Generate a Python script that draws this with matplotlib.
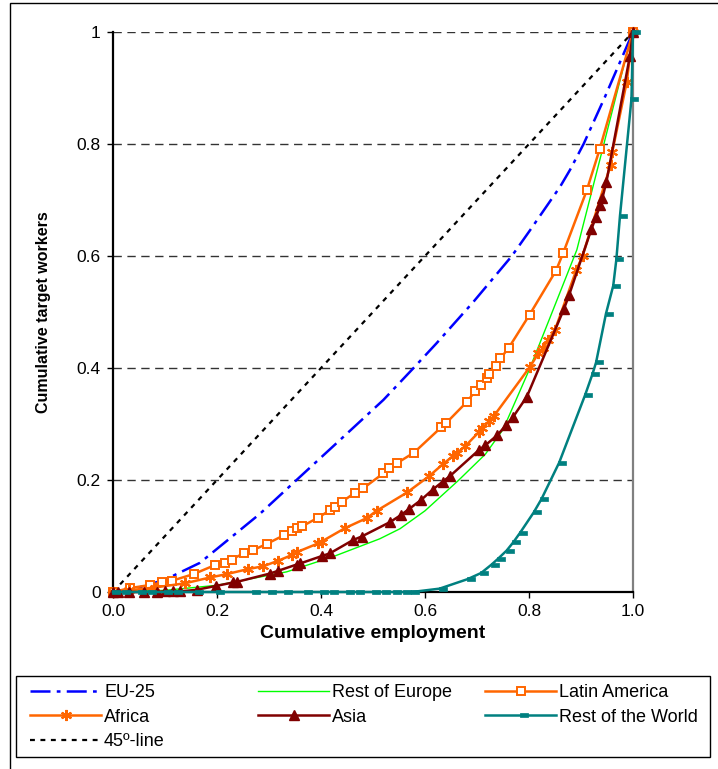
import matplotlib
matplotlib.use("Agg")
import matplotlib.pyplot as plt
from matplotlib.patches import Rectangle
from matplotlib.path import Path

plt.rcParams['font.family'] = ['Liberation Sans', 'DejaVu Sans']

# cumulative employment (x) vs cumulative target workers (y)
eu_x = [0, 0.05, 0.1, 0.167, 0.283, 0.353, 0.443, 0.520, 0.578, 0.622, 0.693, 0.767, 0.802,
        0.860, 0.879, 0.905, 0.946, 1.0]
eu_y = [0, 0.008, 0.022, 0.052, 0.140, 0.200, 0.277, 0.343, 0.400, 0.444, 0.518, 0.600, 0.646,
        0.724, 0.754, 0.800, 0.884, 1.0]

reu_x = [0, 0.1, 0.2, 0.334, 0.423, 0.513, 0.552, 0.6, 0.664, 0.716, 0.75, 0.801, 0.840,
         0.892, 0.944, 0.988, 1.0]
reu_y = [0, 0.003, 0.012, 0.036, 0.063, 0.095, 0.113, 0.145, 0.199, 0.246, 0.29, 0.398, 0.489,
         0.611, 0.800, 0.961, 1.0]

lat_x = [0, 0.033, 0.071, 0.094, 0.113, 0.155, 0.196, 0.215, 0.228, 0.251, 0.270, 0.296,
         0.328, 0.344, 0.353, 0.363, 0.395, 0.417, 0.427, 0.440, 0.465, 0.481, 0.520, 0.531,
         0.546, 0.579, 0.631, 0.641, 0.680, 0.697, 0.708, 0.719, 0.723, 0.736, 0.745, 0.761,
         0.801, 0.852, 0.866, 0.911, 0.936, 1.0]
lat_y = [0, 0.007, 0.0125, 0.017, 0.020, 0.032, 0.048, 0.052, 0.058, 0.069, 0.075, 0.086,
         0.101, 0.109, 0.114, 0.117, 0.133, 0.146, 0.152, 0.161, 0.177, 0.185, 0.212, 0.221,
         0.230, 0.249, 0.294, 0.302, 0.339, 0.359, 0.370, 0.383, 0.389, 0.404, 0.417, 0.436,
         0.495, 0.574, 0.606, 0.717, 0.791, 1.0]

afr_x = [0, 0.03, 0.08, 0.138, 0.187, 0.219, 0.260, 0.289, 0.318, 0.344, 0.353, 0.395,
         0.401, 0.446, 0.488, 0.507, 0.566, 0.608, 0.634, 0.654, 0.661, 0.677, 0.703, 0.710,
         0.723, 0.733, 0.801, 0.818, 0.826, 0.837, 0.850, 0.891, 0.903, 0.957, 0.960, 0.988, 1.0]
afr_y = [0, 0.003, 0.008, 0.0155, 0.026, 0.032, 0.041, 0.046, 0.056, 0.066, 0.071, 0.087,
         0.090, 0.114, 0.132, 0.145, 0.178, 0.207, 0.228, 0.243, 0.248, 0.260, 0.285, 0.292,
         0.305, 0.315, 0.401, 0.426, 0.435, 0.450, 0.468, 0.575, 0.600, 0.763, 0.785, 0.911, 1.0]

asia_x = [0, 0.01, 0.03, 0.06, 0.085, 0.10, 0.115, 0.129, 0.161, 0.199, 0.231, 0.238, 0.302,
          0.318, 0.353, 0.360, 0.401, 0.417, 0.462, 0.478, 0.533, 0.553, 0.569, 0.592, 0.615,
          0.634, 0.648, 0.703, 0.716, 0.739, 0.756, 0.769, 0.796, 0.867, 0.877, 0.920, 0.929,
          0.937, 0.941, 0.949, 0.994, 1.0]
asia_y = [0, 0, 0, 0, 0, 0.001, 0.001, 0.001, 0.004, 0.011, 0.017, 0.018, 0.033,
          0.038, 0.049, 0.051, 0.064, 0.069, 0.093, 0.099, 0.125, 0.137, 0.148, 0.164, 0.183,
          0.197, 0.207, 0.253, 0.262, 0.280, 0.298, 0.312, 0.349, 0.505, 0.530, 0.648, 0.670,
          0.691, 0.703, 0.733, 0.957, 1.0]

row_x = [0, 0.02, 0.05, 0.07, 0.1, 0.12, 0.16, 0.2, 0.27, 0.3, 0.33, 0.37, 0.4, 0.42, 0.45,
         0.47, 0.5, 0.52, 0.54, 0.56, 0.575, 0.628, 0.682, 0.708, 0.728, 0.740, 0.757, 0.770,
         0.783, 0.809, 0.824, 0.858, 0.908, 0.922, 0.929, 0.948, 0.962, 0.968, 0.975, 0.997, 1.0]
row_y = [0, 0, 0, 0, 0, 0, 0, 0, 0, 0, 0, 0, 0, 0, 0,
         0, 0, 0, 0, 0, 0, 0.006, 0.023, 0.034, 0.049, 0.059, 0.074, 0.089,
         0.106, 0.142, 0.166, 0.231, 0.352, 0.389, 0.410, 0.497, 0.547, 0.594, 0.672, 0.880, 1.0]

diag = [0, 1]

yticks = [0, 0.2, 0.4, 0.6, 0.8, 1.0]
ytick_labels = ['0', '0.2', '0.4', '0.6', '0.8', '1']
xticks = [0, 0.2, 0.4, 0.6, 0.8, 1.0]
xtick_labels = ['0.0', '0.2', '0.4', '0.6', '0.8', '1.0']

orange = '#FF6600'
teal = '#008080'

# short bar marker sitting just right of the data point
dash_marker = Path([(-0.1, -0.22), (1.0, -0.22), (1.0, 0.22), (-0.1, 0.22), (-0.1, -0.22)],
                   [Path.MOVETO, Path.LINETO, Path.LINETO, Path.LINETO, Path.CLOSEPOLY])

fig = plt.figure(figsize=(7.18, 7.69), dpi=100)
W, H = 718, 769
ax = fig.add_axes([113 / W, 1 - 592 / H, 520 / W, 560 / H])

for yv in yticks[1:]:
    ax.axhline(yv, color='#333333', lw=1, linestyle=(0, (6, 4)), zorder=1)

l_eu, = ax.plot(eu_x, eu_y, color='#0000FF', lw=1.8, linestyle=(0, (8, 2.5, 1.5, 2.5)),
                clip_on=False, zorder=3)
l_reu, = ax.plot(reu_x, reu_y, color='#00FF00', lw=1, clip_on=False, zorder=3)
l_lat, = ax.plot(lat_x, lat_y, color=orange, lw=1.8, marker='s', ms=6, mfc='white',
                 mec=orange, mew=1.4, clip_on=False, zorder=4)
l_afr, = ax.plot(afr_x, afr_y, color=orange, lw=1.8, marker=(6, 2, 0), ms=8,
                 mec=orange, mew=1.5, clip_on=False, zorder=4)
l_asia, = ax.plot(asia_x, asia_y, color='#800000', lw=1.8, marker='^', ms=6.5,
                  mfc='#800000', mec='#800000', clip_on=False, zorder=5)
l_row, = ax.plot(row_x, row_y, color=teal, lw=1.8, marker=dash_marker, ms=10,
                 mfc=teal, mec=teal, mew=0.5, clip_on=False, zorder=5)
l_diag, = ax.plot(diag, diag, color='black', lw=1.6, linestyle=(0, (2.2, 2.5)),
                  clip_on=False, zorder=3)

ax.set_xlim(0, 1)
ax.set_ylim(0, 1)
ax.set_xticks(xticks)
ax.set_xticklabels(xtick_labels)
ax.set_yticks(yticks)
ax.set_yticklabels(ytick_labels)
ax.tick_params(axis='both', direction='out', length=4, width=1, labelsize=12.5, pad=5)

ax.spines['top'].set_visible(False)
ax.spines['left'].set_linewidth(1.6)
ax.spines['bottom'].set_linewidth(1.6)
ax.spines['right'].set_color('#808080')
ax.spines['right'].set_linewidth(1.6)

fig.text(43.5 / W, 1 - 312 / H, 'Cumulative target workers', rotation=90,
         ha='center', va='center', fontsize=11.5, fontweight='bold')
fig.text(373 / W, 1 - 633 / H, 'Cumulative employment',
         ha='center', va='center', fontsize=14, fontweight='bold')

# legend: three equal-width columns inside one box
columns = [
    ([l_eu, l_afr, l_diag], ['EU-25', 'Africa', '45º-line'], 30),
    ([l_reu, l_asia], ['Rest of Europe', 'Asia'], 258),
    ([l_lat, l_row], ['Latin America', 'Rest of the World'], 485),
]
for hs, ls, x0 in columns:
    fig.legend(hs, ls, loc='upper left', bbox_to_anchor=(x0 / W, 1 - 684 / H),
               borderaxespad=0, borderpad=0, fontsize=13, handlelength=3.95,
               handletextpad=0.15, labelspacing=0.42, numpoints=1, frameon=False)

fig.add_artist(Rectangle((16 / W, 1 - 757 / H), 694 / W, 81 / H, transform=fig.transFigure,
                         fill=False, ec='black', lw=1))

# outer chart frame
fig.add_artist(Rectangle((10 / W, -0.05), 2, 1.05 - 3 / H, transform=fig.transFigure,
                         fill=False, ec='black', lw=1, clip_on=False))

fig.savefig('out.png', dpi=100)
